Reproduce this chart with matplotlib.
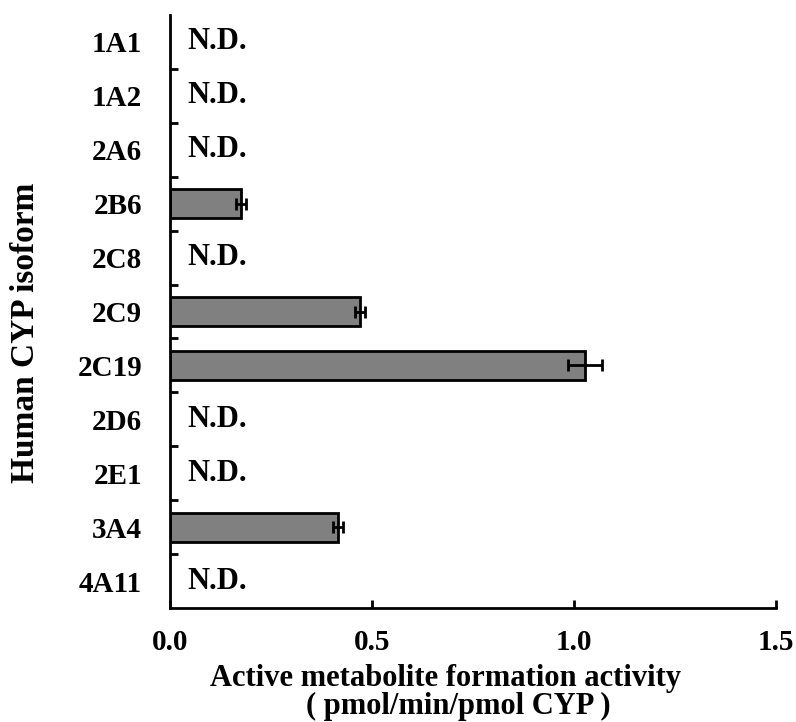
import numpy as np
import matplotlib
matplotlib.use("Agg")
import matplotlib.pyplot as plt
from matplotlib.ticker import FixedLocator

plt.rcParams['font.family'] = ['Liberation Serif', 'DejaVu Serif']
plt.rcParams['font.weight'] = 'bold'

isoforms = ["1A1", "1A2", "2A6", "2B6", "2C8", "2C9", "2C19", "2D6", "2E1", "3A4", "4A11"]
# mean activity (pmol/min/pmol CYP); NaN = not detected
activity = [np.nan, np.nan, np.nan, 0.176, np.nan, 0.470, 1.027, np.nan, np.nan, 0.416, np.nan]
sd = [np.nan, np.nan, np.nan, 0.013, np.nan, 0.012, 0.042, np.nan, np.nan, 0.013, np.nan]
x_ticks = [0.0, 0.5, 1.0, 1.5]

fig = plt.figure(figsize=(7.96, 7.22), dpi=100)
ax = fig.add_axes([0.2136, 0.1579, 0.7613, 0.8213])

y = np.arange(len(isoforms))
act = np.array(activity, dtype=float)
err = np.array(sd, dtype=float)
detected = ~np.isnan(act)

ax.barh(y[detected], act[detected], height=0.54, color='#808080',
        edgecolor='black', linewidth=2, zorder=2)
ax.errorbar(act[detected], y[detected], xerr=err[detected], fmt='none',
            ecolor='black', elinewidth=2, capsize=4.5, capthick=2, zorder=3)

for yi in y[~detected]:
    ax.text(0.043, yi, "N.D.", ha='left', va='center', fontsize=22,
            fontweight='bold')

ax.set_xlim(0, 1.5)
ax.set_ylim(len(isoforms) - 0.5, -0.5)

ax.set_xticks(x_ticks)
ax.set_xticklabels([f"{t:.1f}" for t in x_ticks])
ax.set_yticks(y)
ax.set_yticklabels(isoforms)
ax.yaxis.set_minor_locator(FixedLocator(np.arange(0.5, len(isoforms) - 1, 1.0)))

ax.tick_params(axis='y', which='major', length=0, pad=20, labelsize=21)
ax.tick_params(axis='y', which='minor', direction='in', length=6, width=2)
ax.tick_params(axis='x', which='major', direction='in', length=6, width=2,
               pad=15, labelsize=21)

for side in ('top', 'right'):
    ax.spines[side].set_visible(False)
for side in ('left', 'bottom'):
    ax.spines[side].set_linewidth(2)

# two-line x-axis title
ax.text(0.455, -0.1315, "Active metabolite formation activity", transform=ax.transAxes,
        ha='center', va='baseline', fontsize=22, fontweight='bold')
ax.text(0.475, -0.1788, "( pmol/min/pmol CYP )", transform=ax.transAxes,
        ha='center', va='baseline', fontsize=22, fontweight='bold')

ax.set_ylabel("Human CYP isoform", fontsize=24, fontweight='bold')
ax.yaxis.set_label_coords(-0.213, 0.464)

fig.savefig("out.png", dpi=100)
